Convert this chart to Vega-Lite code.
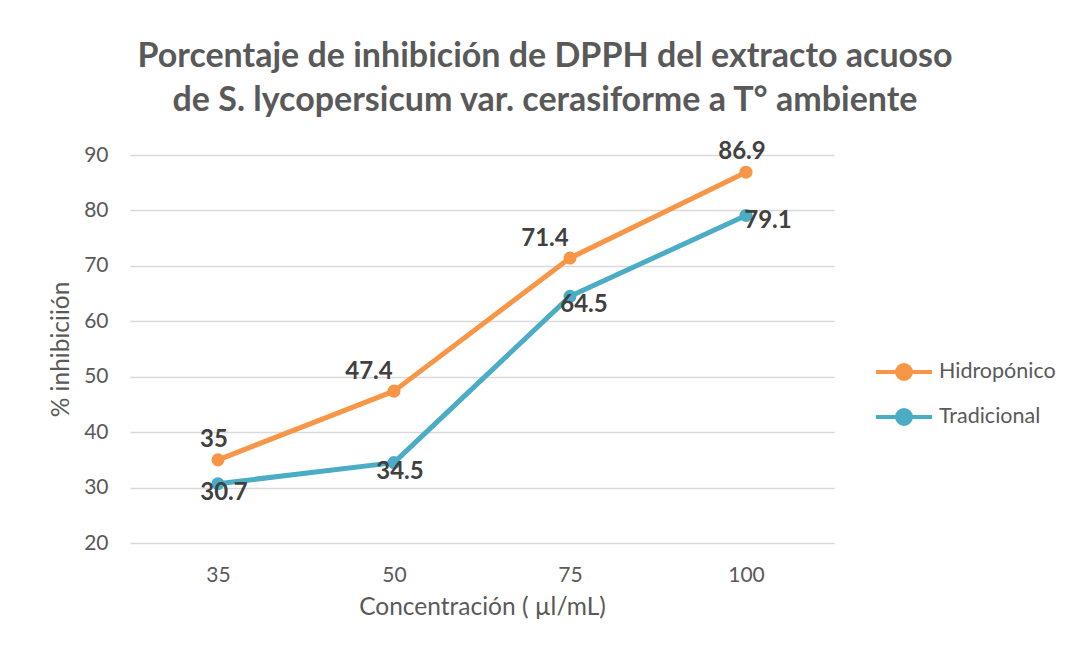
{
  "$schema": "https://vega.github.io/schema/vega-lite/v6.json",
  "autosize": "none",
  "width": 704,
  "height": 388,
  "padding": {"left": 130, "top": 155, "right": 235, "bottom": 113},
  "background": "white",
  "title": {
    "text": ["Porcentaje de inhibición de DPPH del extracto acuoso", "de S. lycopersicum var. cerasiforme a T° ambiente"],
    "anchor": "middle",
    "dx": 63,
    "offset": 22,
    "fontSize": 34,
    "lineHeight": 44,
    "font": "Lato",
    "fontWeight": "bold",
    "color": "#595959"
  },
  "data": {
    "values": [
      {"conc": 35, "serie": "Hidropónico", "valor": 35},
      {"conc": 50, "serie": "Hidropónico", "valor": 47.4},
      {"conc": 75, "serie": "Hidropónico", "valor": 71.4},
      {"conc": 100, "serie": "Hidropónico", "valor": 86.9},
      {"conc": 35, "serie": "Tradicional", "valor": 30.7},
      {"conc": 50, "serie": "Tradicional", "valor": 34.5},
      {"conc": 75, "serie": "Tradicional", "valor": 64.5},
      {"conc": 100, "serie": "Tradicional", "valor": 79.1}
    ]
  },
  "encoding": {
    "x": {
      "field": "conc", "type": "ordinal",
      "scale": {"type": "point", "padding": 0.5},
      "axis": {
        "title": "Concentración ( µl/mL)", "labelAngle": 0,
        "domain": false, "ticks": false, "labelPadding": 21,
        "titlePadding": 10
      }
    },
    "y": {
      "field": "valor", "type": "quantitative",
      "scale": {"domain": [20, 90], "nice": false, "zero": false},
      "axis": {
        "title": "% inhibiciión", "values": [20, 30, 40, 50, 60, 70, 80, 90],
        "labelOverlap": false,
        "domain": false, "ticks": false, "labelPadding": 22, "titlePadding": 10
      }
    },
    "color": {
      "field": "serie", "type": "nominal",
      "scale": {"domain": ["Hidropónico", "Tradicional"], "range": ["#F79646", "#4BACC6"]},
      "legend": {
        "title": null,
        "orient": "none",
        "legendX": 744,
        "legendY": 187,
        "symbolType": "M -1 0 L 1 0 M 0 -0.25 A 0.25 0.25 0 1 1 0 0.25 A 0.25 0.25 0 1 1 0 -0.25",
        "symbolSize": 3136,
        "symbolStrokeWidth": 4,
        "labelFontSize": 21.5,
        "labelFont": "Lato",
        "labelColor": "#595959",
        "labelOffset": 5,
        "rowPadding": 0
      }
    }
  },
  "layer": [
    {"mark": {"type": "line", "strokeWidth": 5, "strokeCap": "round", "strokeJoin": "round"}},
    {"mark": {"type": "point", "filled": true, "size": 170, "opacity": 1}},
    {
      "transform": [{"filter": "datum.serie == 'Hidropónico' && (datum.conc == 35 || datum.conc == 100)"}],
      "mark": {"type": "text", "dy": -20, "dx": -4, "fontSize": 24, "font": "Lato", "fontWeight": "bold"},
      "encoding": {"text": {"field": "valor", "type": "quantitative", "format": ".3~g"}, "color": {"value": "#404040"}}
    },
    {
      "transform": [{"filter": "datum.serie == 'Hidropónico' && (datum.conc == 50 || datum.conc == 75)"}],
      "mark": {"type": "text", "dy": -19, "dx": -25, "fontSize": 24, "font": "Lato", "fontWeight": "bold"},
      "encoding": {"text": {"field": "valor", "type": "quantitative", "format": ".3~g"}, "color": {"value": "#404040"}}
    },
    {
      "transform": [{"filter": "datum.serie == 'Tradicional' && (datum.conc == 35 || datum.conc == 50)"}],
      "mark": {"type": "text", "dy": 9, "dx": 6, "fontSize": 24, "font": "Lato", "fontWeight": "bold"},
      "encoding": {"text": {"field": "valor", "type": "quantitative", "format": ".3~g"}, "color": {"value": "#404040"}}
    },
    {
      "transform": [{"filter": "datum.serie == 'Tradicional' && datum.conc == 75"}],
      "mark": {"type": "text", "dy": 9, "dx": 14, "fontSize": 24, "font": "Lato", "fontWeight": "bold"},
      "encoding": {"text": {"field": "valor", "type": "quantitative", "format": ".3~g"}, "color": {"value": "#404040"}}
    },
    {
      "transform": [{"filter": "datum.serie == 'Tradicional' && datum.conc == 100"}],
      "mark": {"type": "text", "dy": 6, "dx": 22, "fontSize": 24, "font": "Lato", "fontWeight": "bold"},
      "encoding": {"text": {"field": "valor", "type": "quantitative", "format": ".3~g"}, "color": {"value": "#404040"}}
    }
  ],
  "config": {
    "view": {"stroke": null},
    "axis": {
      "labelFont": "Lato", "labelFontSize": 21, "labelColor": "#595959",
      "titleFont": "Lato", "titleFontSize": 24.5, "titleColor": "#595959", "titleFontWeight": "normal",
      "gridColor": "#D9D9D9", "gridWidth": 1.5
    },
    "axisX": {"grid": false},
    "axisY": {"grid": true}
  }
}
